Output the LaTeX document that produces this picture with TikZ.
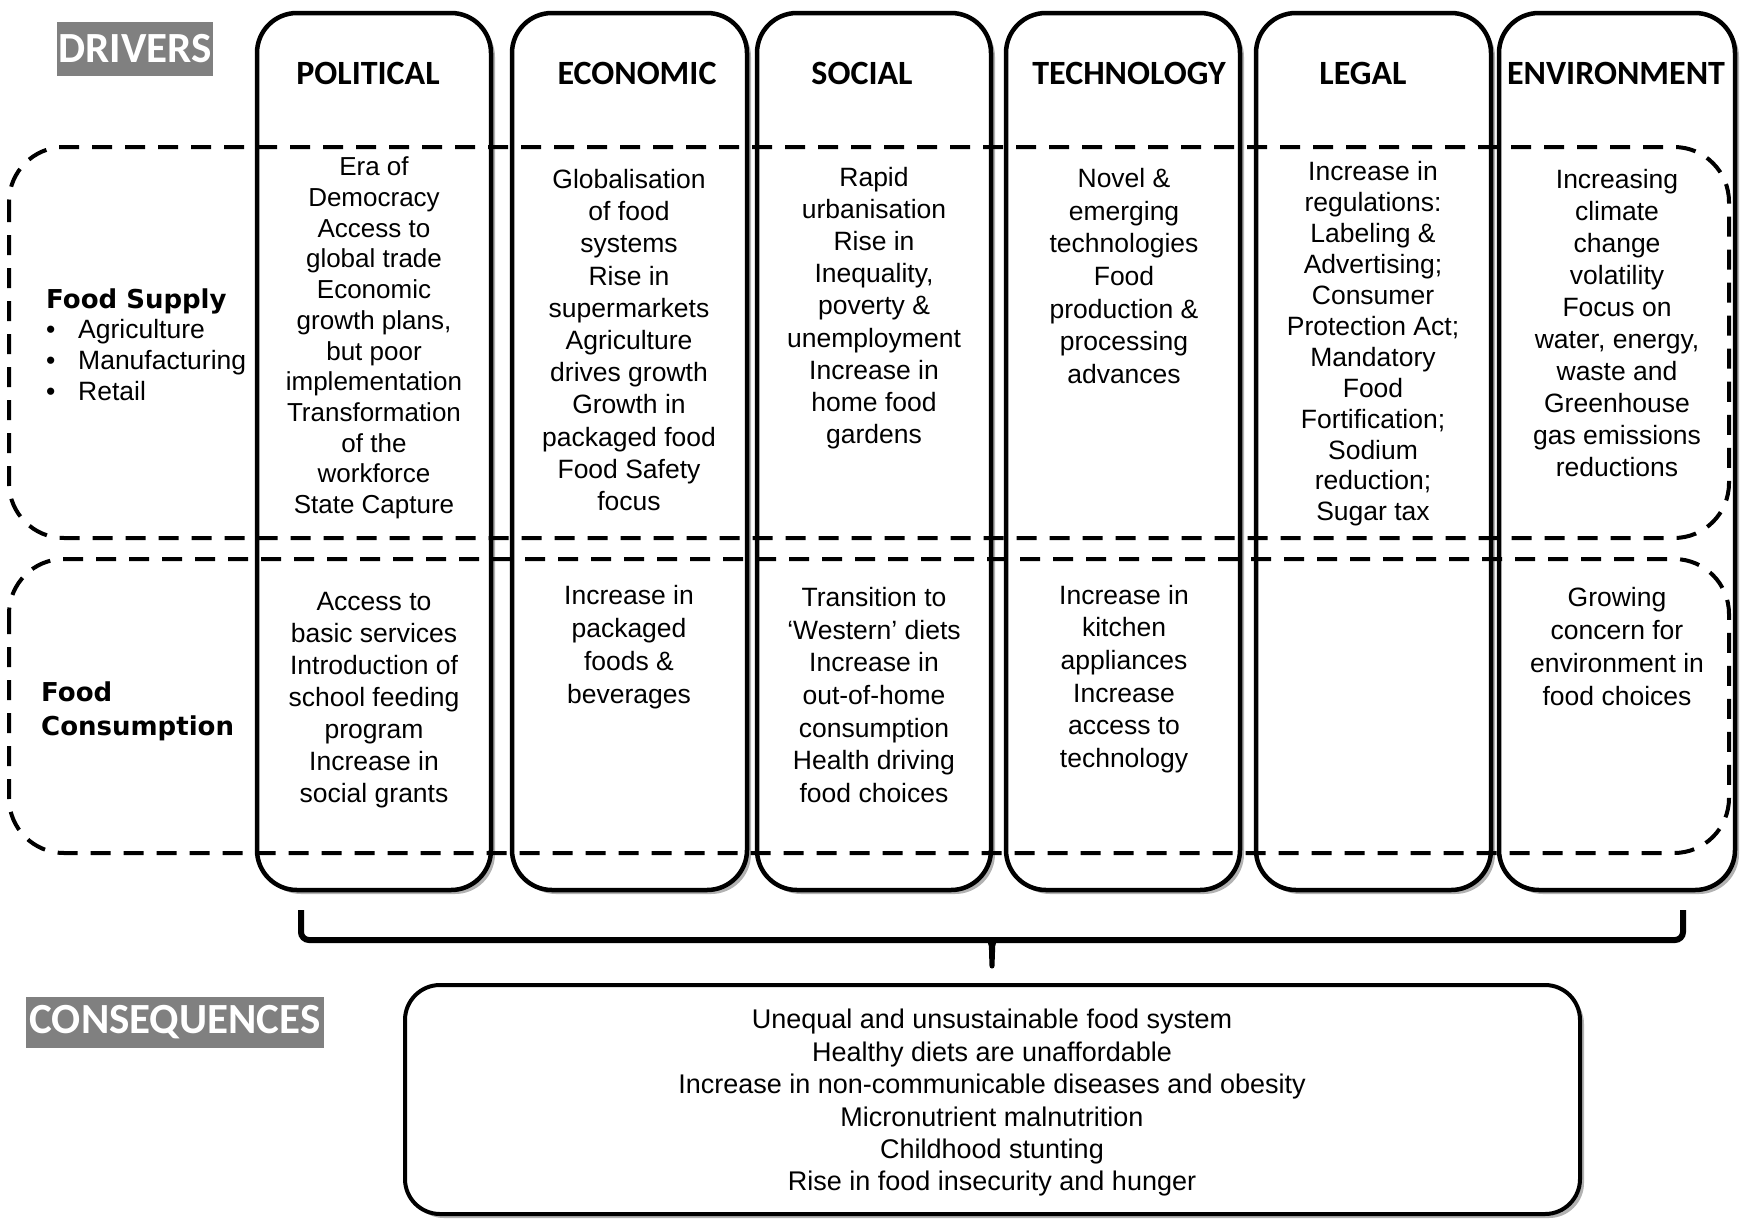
\documentclass[tikz,border=0pt]{standalone}
\usepackage{fontspec}
\usepackage{graphicx}
\setmainfont{Liberation Sans}
\newfontfamily\hdfont{Carlito}
\newfontfamily\vfont{DejaVu Sans}
\usetikzlibrary{shadows}
\begin{document}
\begin{tikzpicture}[x=1pt,y=-1pt,
  col/.style={draw, line width=4.5pt, rounded corners=40pt, fill=white,
    minimum height=877pt, inner sep=0pt,
    drop shadow={shadow xshift=4pt, shadow yshift=-4pt, opacity=0.3, fill=black}},
  dashbox/.style={draw, line width=4pt, rounded corners=55pt, dash pattern=on 20pt off 13pt},
  hdr/.style={font=\hdfont\bfseries\fontsize{34}{40}\selectfont, inner sep=0pt},
  body/.style={align=center, inner sep=0pt, font=\fontsize{26.5}{#1}\selectfont},
  body/.default=31.5,
  graylab/.style={fill=black!50, text=white, inner sep=0pt, font=\hdfont\bfseries\fontsize{43}{48}\selectfont},
  rowlab/.style={font=\vfont\bfseries\fontsize{26}{34}\selectfont, inner sep=0pt, align=left},
  lst/.style={font=\fontsize{26.5}{31}\selectfont, inner sep=0pt}
]
\useasboundingbox (0,0) rectangle (1750,1229);

% column boxes
\node[col, minimum width=234pt] (pol) at (374,451.5) {};
\node[col, minimum width=235pt] (eco) at (629.5,451.5) {};
\node[col, minimum width=234pt] (soc) at (874,451.5) {};
\node[col, minimum width=234pt] (tec) at (1123,451.5) {};
\node[col, minimum width=235pt] (leg) at (1373.5,451.5) {};
\node[col, minimum width=236pt] (env) at (1617,451.5) {};

% dashed rows
\draw[dashbox] (9,147) rectangle (1729,538);
\draw[dashbox] (9,559) rectangle (1729,853);

% labels
\node[graylab, minimum width=156pt, minimum height=54pt] (drv) at (135,49) {DRIVERS};
\node[graylab, minimum width=298pt, minimum height=51pt] (csq) at (175,1022) {CONSEQUENCES};

% headers
\node[hdr] (hpol) at (368,73) {POLITICAL};
\node[hdr] (heco) at (637,73) {ECONOMIC};
\node[hdr] (hsoc) at (862,73) {SOCIAL};
\node[hdr] (htec) at (1129,73) {TECHNOLOGY};
\node[hdr] (hleg) at (1363,73) {LEGAL};
\node[hdr] (henv) at (1616,73) {ENVIRONMENT};

% row labels
\node[rowlab, anchor=base west] (fs) at (46,308) {Food Supply};
\node[lst, anchor=base west] (b1) at (46,338) {\textbullet};
\node[lst, anchor=base west] (l1) at (78,338) {Agriculture};
\node[lst, anchor=base west] (b2) at (46,369) {\textbullet};
\node[lst, anchor=base west] (l2) at (78,369) {Manufacturing};
\node[lst, anchor=base west] (b3) at (46,400) {\textbullet};
\node[lst, anchor=base west] (l3) at (78,400) {Retail};
\node[rowlab, anchor=base west] (fc) at (41,735) {Food\\Consumption};

% supply row texts
\node[body=30.7, font=\fontsize{26}{30.7}\selectfont] (s1) at (374,338) {Era of\\Democracy\\Access to\\global trade\\Economic\\growth plans,\\but poor\\implementation\\Transformation\\of the\\workforce\\State Capture};
\node[body=32.2] (s2) at (629,340) {Globalisation\\of food\\systems\\Rise in\\supermarkets\\Agriculture\\drives growth\\Growth in\\packaged food\\Food Safety\\focus};
\node[body=32.2] (s3) at (874,308) {Rapid\\urbanisation\\Rise in\\Inequality,\\poverty \&\\unemployment\\Increase in\\home food\\gardens};
\node[body=32.6] (s4) at (1124,276) {Novel \&\\emerging\\technologies\\Food\\production \&\\processing\\advances};
\node[body=30.9] (s5) at (1373,344) {Increase in\\regulations:\\Labeling \&\\Advertising;\\Consumer\\Protection Act;\\Mandatory\\Food\\Fortification;\\Sodium\\reduction;\\Sugar tax};
\node[body=32.1] (s6) at (1617,323) {Increasing\\climate\\change\\volatility\\Focus on\\water, energy,\\waste and\\Greenhouse\\gas emissions\\reductions};

% consumption row texts
\node[body=32] (c1) at (374,700) {Access to\\basic services\\Introduction of\\school feeding\\program\\Increase in\\social grants};
\node[body=33] (c2) at (629,647) {Increase in\\packaged\\foods \&\\beverages};
\node[body=32.6] (c3) at (874,695) {Transition to\\‘Western’ diets\\Increase in\\out-of-home\\consumption\\Health driving\\food choices};
\node[body=32.6] (c4) at (1124,679) {Increase in\\kitchen\\appliances\\Increase\\access to\\technology};
\node[body=33] (c6) at (1617,647) {Growing\\concern for\\environment in\\food choices};

% brace
\draw[line width=6pt, rounded corners=8pt] (301,910) -- (301,940) -- (1683,940) -- (1683,910);
\fill (978,937) .. controls (989,939) and (989,943) .. (989,952) -- (989.5,966)
  arc[start angle=180, end angle=360, radius=2.5pt]
  -- (995,952) .. controls (995,943) and (995,939) .. (1006,937) -- cycle;

% consequences box
\node[draw, line width=4pt, rounded corners=35pt, fill=white, minimum width=1175pt, minimum height=229pt,
  drop shadow={shadow xshift=4pt, shadow yshift=-4pt, opacity=0.3, fill=black}] (cbox) at (992.5,1099.5) {};
\node[align=center, inner sep=0pt, font=\fontsize{27}{32.4}\selectfont] (ctext) at (992,1103) {Unequal and unsustainable food system\\Healthy diets are unaffordable\\Increase in non-communicable diseases and obesity\\Micronutrient malnutrition\\Childhood stunting\\Rise in food insecurity and hunger};
\end{tikzpicture}
\end{document}
